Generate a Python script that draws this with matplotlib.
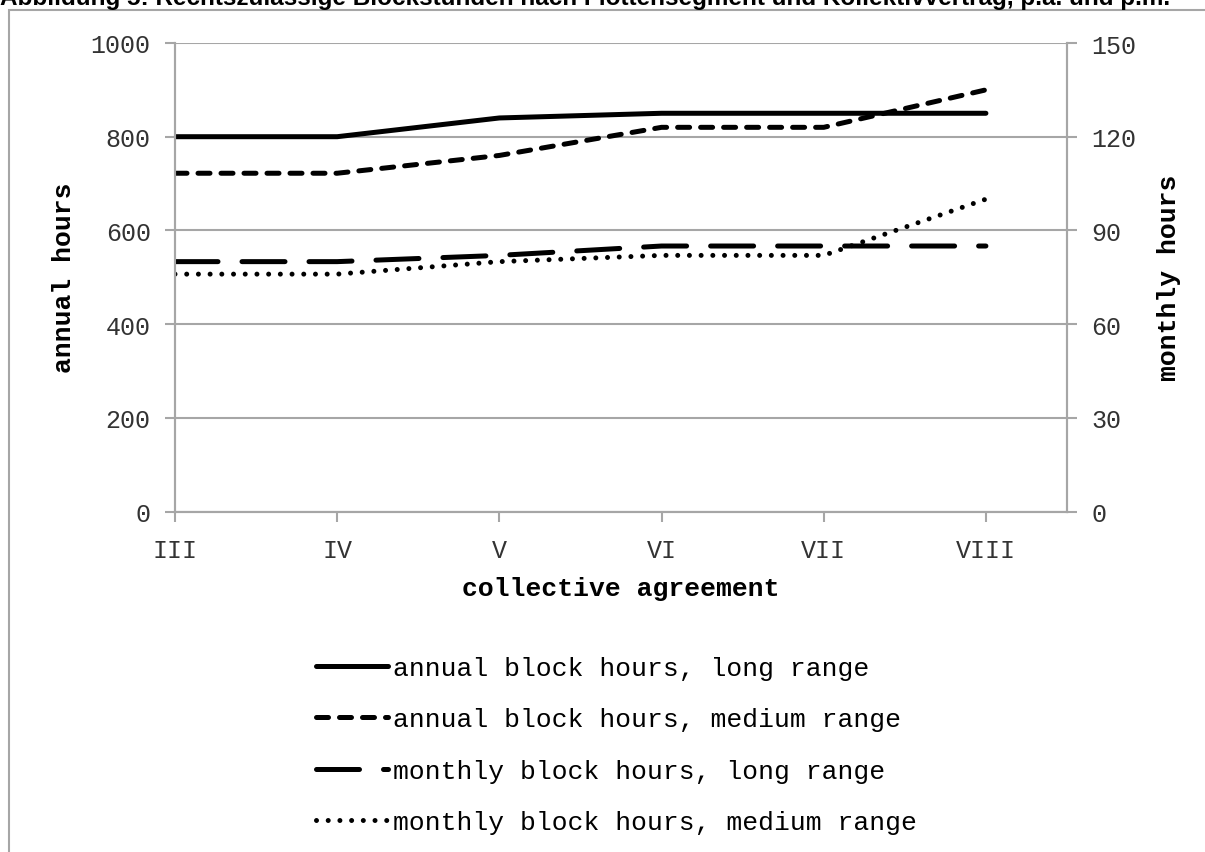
import matplotlib
matplotlib.use("Agg")
import matplotlib.pyplot as plt
from matplotlib.patches import Rectangle

# ---- data ----
categories = ["III", "IV", "V", "VI", "VII", "VIII"]
annual_long = [800, 800, 840, 850, 850, 850]
annual_medium = [722, 722, 760, 820, 820, 900]
monthly_long = [80, 80, 82, 85, 85, 85]
monthly_medium = [76, 76, 80, 82, 82, 100]
left_ticks = [0, 200, 400, 600, 800, 1000]
right_ticks = [0, 30, 60, 90, 120, 150]
labels = ["annual block hours, long range",
          "annual block hours, medium range",
          "monthly block hours, long range",
          "monthly block hours, medium range"]
title = "Abbildung 5: Rechtszulässige Blockstunden nach Flottensegment und Kollektivvertrag, p.a. und p.m."

W, H = 1205, 853
DPI = 100
fig = plt.figure(figsize=(W / DPI, H / DPI), dpi=DPI)

MONO = "Liberation Mono"
GRAY = "#A6A6A6"
TXT = "#333333"

def fx(px):
    return px / W

def fy(py):
    return 1 - py / H

# chart-area border (extends beyond image to the right/bottom)
fig.patches.append(Rectangle((fx(8.5), fy(870)), fx(1300) - fx(8.5), fy(11) - fy(870),
                             transform=fig.transFigure, fill=False,
                             edgecolor=GRAY, linewidth=1.5, zorder=0))

# title (clipped at the top of the image, as in the reference)
t = fig.text(0.0, fy(5), title, fontfamily="Liberation Sans", fontweight="bold",
             fontsize=16, ha="left", va="baseline", color="black")
fig.canvas.draw()
bb = t.get_window_extent(renderer=fig.canvas.get_renderer())
t.set_fontsize(16 * 1167 / bb.width)

left, right, top, bottom = 175, 1067, 44, 512.5
ax = fig.add_axes([fx(left), fy(bottom), fx(right) - fx(left), fy(top) - fy(bottom)])
ax2 = ax.twinx()

x = list(range(len(categories)))
lw = 3.6
l1, = ax.plot(x, annual_long, color="black", lw=lw, solid_capstyle="round",
              solid_joinstyle="round", label=labels[0])
l2, = ax.plot(x, annual_medium, color="black", lw=lw, dashes=(2.4, 2.2),
              dash_capstyle="round", label=labels[1])
l3, = ax2.plot(x, monthly_long, color="black", lw=lw, dashes=(8.6, 4.8),
               dash_capstyle="round", label=labels[2])
l4, = ax2.plot(x, monthly_medium, color="black", lw=3.6, dashes=(0.001, 2.34),
               dash_capstyle="round", label=labels[3])

ax.set_xlim(0, 5.5)
ax.set_ylim(0, 1000)
ax2.set_ylim(0, 150)
ax.set_xticks(x)
ax.set_xticklabels(categories)
ax.set_yticks(left_ticks)
ax2.set_yticks(right_ticks)
ax.grid(axis="y", color=GRAY, lw=1.5)
ax.set_axisbelow(True)

for a in (ax, ax2):
    for s in a.spines.values():
        s.set_color(GRAY)
        s.set_linewidth(1.5)
    a.spines["top"].set_visible(False)
    a.set_facecolor("none")
ax.tick_params(axis="both", direction="out", length=7, width=1.5, color=GRAY,
               labelsize=18, labelcolor=TXT, pad=10.5)
ax.tick_params(axis="x", pad=12)
ax2.tick_params(axis="y", direction="out", length=7, width=1.5, color=GRAY,
                labelsize=18, labelcolor=TXT, pad=10.5)
for lab in ax.get_xticklabels() + ax.get_yticklabels() + ax2.get_yticklabels():
    lab.set_fontfamily(MONO)

ax.set_ylabel("annual hours", fontfamily=MONO, fontweight="bold", fontsize=19)
ax.yaxis.set_label_coords((76 - left) / (right - left), 0.5)
ax2.set_ylabel("monthly hours", fontfamily=MONO, fontweight="bold", fontsize=19)
ax2.yaxis.set_label_coords((1157 - left) / (right - left), 0.5)
ax.set_xlabel("collective agreement", fontfamily=MONO, fontweight="bold", fontsize=19)
ax.xaxis.set_label_coords(0.5, (bottom - 577) / (bottom - top))

handles = [l1, l2, l3, l4]
leg = fig.legend(handles, labels, loc="upper left",
                 bbox_to_anchor=(fx(316), fy(657)), frameon=False,
                 prop={"family": MONO, "size": 19},
                 handlelength=2.73, handletextpad=0.2, labelspacing=1.04,
                 borderaxespad=0, borderpad=0)

fig.savefig("out.png", dpi=DPI)
